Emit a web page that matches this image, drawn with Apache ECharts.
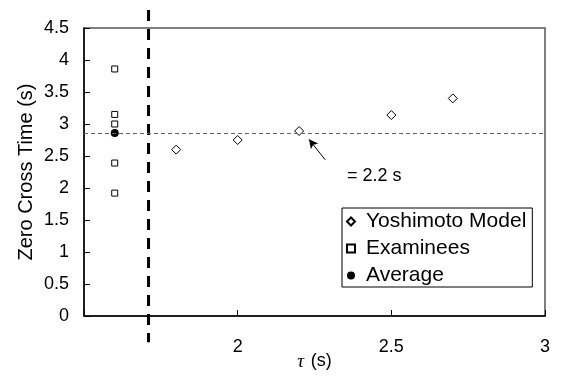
<!DOCTYPE html>
<html>
<head>
<meta charset="utf-8">
<script src="https://cdn.jsdelivr.net/npm/echarts@6/dist/echarts.min.js"></script>
<style>
html, body { margin: 0; padding: 0; background: #fff; }
#chart { width: 563px; height: 376px; }
</style>
</head>
<body>
<div id="chart"></div>
<script>
// Zero cross time against the time constant tau
const modelTau = [1.8, 2.0, 2.2, 2.5, 2.7];
const modelZct = [2.60, 2.75, 2.89, 3.14, 3.40];
const examineeTau = [1.6, 1.6, 1.6, 1.6, 1.6];
const examineeZct = [3.86, 3.15, 3.00, 2.39, 1.92];
const averageTau = [1.6];
const averageZct = [2.86];
const cutoffTau = [1.71, 1.71];
const cutoffZct = [4.78, -0.41];
const xTickLabels = ['', '2', '2.5', '3'];
const yTickLabels = ['0', '0.5', '1', '1.5', '2', '2.5', '3', '3.5', '4', '4.5'];
const seriesNames = ['Yoshimoto Model', 'Examinees', 'Average'];
const noteText = '= 2.2 s';

const FONT = 'Liberation Sans, Arial, sans-serif';
const zip = (xs, ys) => xs.map((x, i) => [x, ys[i]]);

const chart = echarts.init(document.getElementById('chart'), null, { renderer: 'canvas' });

const option = {
  animation: false,
  backgroundColor: '#fff',
  grid: {
    left: 84, right: 18, top: 28, bottom: 60,
    containLabel: false,
    outerBoundsMode: 'none',
    show: true, borderColor: '#555', borderWidth: 1.5, backgroundColor: 'transparent'
  },
  legend: {
    data: seriesNames,
    orient: 'vertical',
    left: 342, top: 208,
    padding: [3, 6, 1, 4],
    itemWidth: 8, itemHeight: 8, itemGap: 6,
    backgroundColor: '#fff',
    borderColor: '#000', borderWidth: 1, borderRadius: 0,
    textStyle: { fontFamily: FONT, fontSize: 21, color: '#000', lineHeight: 20, padding: [0, 0, 0, 6] },
    selectedMode: false
  },
  xAxis: {
    type: 'value', min: 1.5, max: 3, interval: 0.5,
    name: '{t|τ}  {s|(s)}',
    nameLocation: 'middle', nameGap: 36,
    nameMoveOverlap: false,
    nameTextStyle: {
      rich: {
        t: { fontFamily: 'Liberation Serif, serif', fontStyle: 'italic', fontSize: 19, color: '#000' },
        s: { fontFamily: FONT, fontSize: 18, color: '#000' }
      }
    },
    axisLine: { show: true, onZero: false, lineStyle: { color: '#000', width: 1.5 } },
    axisTick: { show: true, inside: true, length: 6, lineStyle: { color: '#000', width: 1 } },
    axisLabel: {
      fontFamily: FONT, fontSize: 18, color: '#000', margin: 22,
      formatter: (v) => xTickLabels[Math.round((v - 1.5) / 0.5)] || ''
    },
    splitLine: { show: false }
  },
  yAxis: {
    type: 'value', min: 0, max: 4.5, interval: 0.5,
    name: 'Zero Cross Time (s)',
    nameLocation: 'middle', nameGap: 48,
    nameMoveOverlap: false,
    nameTextStyle: { fontFamily: FONT, fontSize: 20, color: '#000' },
    axisLine: { show: true, lineStyle: { color: '#000', width: 1.5 } },
    axisTick: { show: true, inside: true, length: 6, lineStyle: { color: '#000', width: 1 } },
    axisLabel: {
      fontFamily: FONT, fontSize: 18, color: '#000', margin: 15,
      formatter: (v) => yTickLabels[Math.round(v / 0.5)]
    },
    splitLine: { show: false }
  },
  series: [
    {
      name: 'cutoff',
      type: 'line',
      data: zip(cutoffTau, cutoffZct),
      clip: false,
      silent: true,
      symbol: 'none',
      lineStyle: { color: '#000', width: 3, type: [11, 8] },
      z: 1
    },
    {
      name: seriesNames[0],
      type: 'scatter',
      data: zip(modelTau, modelZct),
      symbol: 'diamond',
      symbolSize: 9,
      itemStyle: { color: '#fff', borderColor: '#000', borderWidth: 1, opacity: 1 },
      z: 3,
      markLine: {
        silent: true,
        symbol: ['none', 'arrow'],
        symbolSize: [7, 9],
        label: { show: false },
        lineStyle: { color: '#000', width: 1, type: 'solid' },
        data: [[{ coord: [2.285, 2.44] }, { coord: [2.232, 2.76] }]]
      }
    },
    {
      name: seriesNames[1],
      type: 'scatter',
      data: zip(examineeTau, examineeZct),
      symbol: 'rect',
      symbolSize: 6,
      itemStyle: { color: '#fff', borderColor: '#000', borderWidth: 1, opacity: 1 },
      z: 3
    },
    {
      name: seriesNames[2],
      type: 'scatter',
      data: zip(averageTau, averageZct),
      symbol: 'circle',
      symbolSize: 8,
      itemStyle: { color: '#000', opacity: 1 },
      z: 4,
      markLine: {
        silent: true,
        symbol: ['none', 'none'],
        label: { show: false },
        lineStyle: { color: '#666', width: 1, type: [4, 3] },
        data: [{ yAxis: averageZct[0] }]
      }
    }
  ]
};

chart.setOption(option);

// note beside the arrow
const notePos = chart.convertToPixel({ gridIndex: 0 }, [2.356, 2.177]);
chart.setOption({
  graphic: [{
    type: 'text',
    left: notePos[0],
    top: notePos[1] - 10,
    style: { text: noteText, fontFamily: FONT, fontSize: 18, fill: '#000' },
    silent: true
  }]
});
</script>
</body>
</html>
